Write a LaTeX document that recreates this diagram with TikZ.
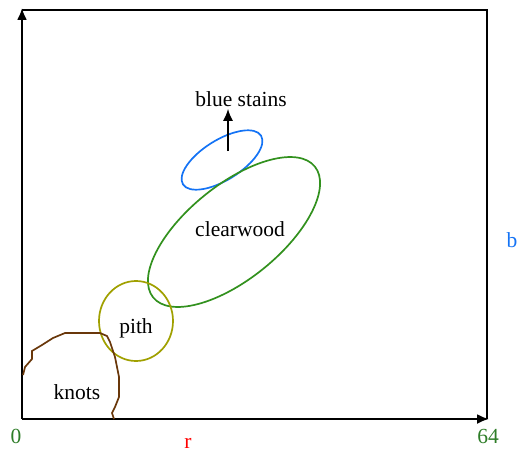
\documentclass[tikz,border=0pt]{standalone}
\usepackage{fontspec}
\setmainfont{Liberation Serif}
\usetikzlibrary{arrows.meta}

\definecolor{axisgreen}{RGB}{46,125,40}
\definecolor{woodgreen}{RGB}{50,145,30}
\definecolor{stainblue}{RGB}{20,115,245}
\definecolor{pitholive}{RGB}{160,160,0}
\definecolor{knotbrown}{RGB}{105,55,10}

\tikzset{
  axis/.style={line width=2.2pt,-{Latex[length=12pt,width=10pt]}},
  frame/.style={line width=1.8pt},
  region/.style={line width=1.7pt},
  lbl/.style={font=\fontsize{21.5}{24}\selectfont,inner sep=0pt}
}

\begin{document}
\begin{tikzpicture}[x=1pt,y=-1pt]
  \useasboundingbox (0,0) rectangle (518,452);
  % axes and frame
  \coordinate (O) at (22,419);
  \coordinate (Ytop) at (22,8);
  \coordinate (Xend) at (489,419);
  \coordinate (TR) at (487,10);
  \draw[axis] (O) -- (Ytop);
  \draw[axis] (O) -- (Xend);
  \draw[frame] (22,10) -- (TR) -- (487,419);
  \node[lbl,text=axisgreen] (zero) at (16,436) {0};
  \node[lbl,text=axisgreen] (sixtyfour) at (488,436) {64};
  \node[lbl,text=red] (rlab) at (188,443) {r};
  \node[lbl,text=stainblue,anchor=east] (blab) at (517.5,240) {b};
  % regions
  \coordinate (stains) at (222,160);
  \coordinate (clear) at (234,232);
  \coordinate (pithc) at (136,321);
  \draw[region,stainblue,rotate around={32:(stains)}] (stains) ellipse (46pt and 20pt);
  \draw[region,woodgreen,rotate around={39:(clear)}] (clear) ellipse (104pt and 47pt);
  \draw[region,pitholive] (pithc) ellipse (37pt and 40pt);
  \draw[region,knotbrown] (23,375) -- (25,367) -- (32,359) -- (32,351) -- (42,345)
    -- (53,338) -- (65,333) -- (100,333) -- (107,336) -- (110,342) -- (115,357)
    -- (117,367) -- (119,377) -- (119,397) -- (115,407) -- (112,413) -- (114,419);
  % labels
  \node[lbl] (bluestains) at (241,99) {blue stains};
  \node[lbl] (clearwood) at (240,229) {clearwood};
  \node[lbl] (pith) at (136,328) {pith};
  \node[lbl] (knots) at (77,392) {knots};
  \coordinate (arrstart) at (228,151);
  \draw[line width=1.8pt,-{Latex[length=12pt,width=10pt]}] (arrstart) -- ([yshift=-2pt]bluestains.south -| arrstart);
\end{tikzpicture}
\end{document}
